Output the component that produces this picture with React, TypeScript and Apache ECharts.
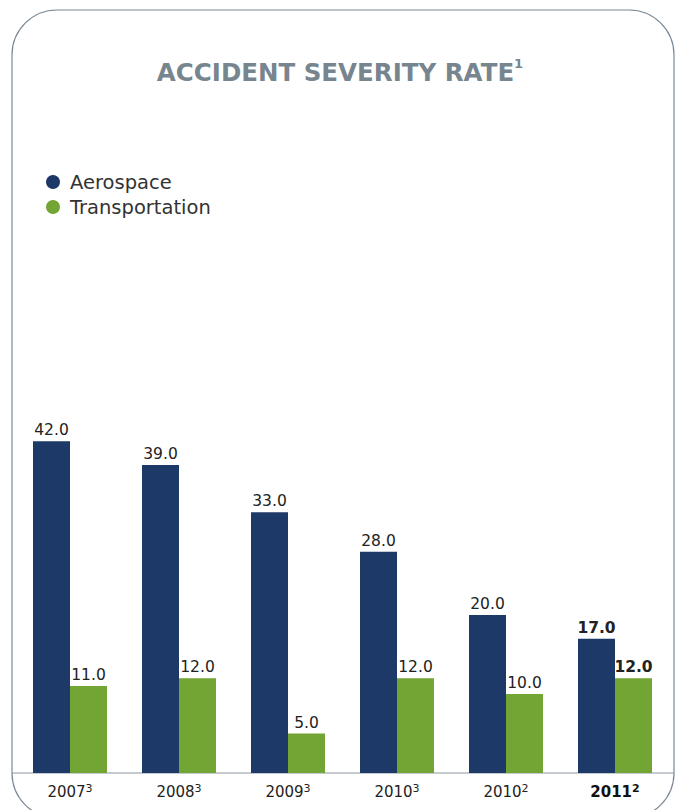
import React, { useEffect, useRef } from "react";
import * as echarts from "echarts";

const years = ["2007", "2008", "2009", "2010", "2010", "2011"];
const footnotes = ["3", "3", "3", "3", "2", "2"];
const aerospace = [42.0, 39.0, 33.0, 28.0, 20.0, 17.0];
const transportation = [11.0, 12.0, 5.0, 12.0, 10.0, 12.0];
const seriesNames = ["Aerospace", "Transportation"];
const titleText = "ACCIDENT SEVERITY RATE";
const titleNote = "1";

const NAVY = "#1c3968";
const GREEN = "#72a534";
const FONT = "DejaVu Sans";

export default function App() {
  const ref = useRef<HTMLDivElement>(null);
  useEffect(() => {
    document.body.style.margin = "0";
    const chart = echarts.init(ref.current!, null, { renderer: "svg" });
    const last = years.length - 1;
    const mk = (vals: number[]) =>
      vals.map((v, i) =>
        i === last
          ? { value: v, label: { fontWeight: "bold" } }
          : { value: v }
      );
    const labelCfg = {
      show: true,
      position: "top",
      distance: 3,
      fontSize: 15.5,
      color: "#222",
      fontFamily: FONT,
      formatter: (p: any) => Number(p.value).toFixed(1),
    };
    chart.setOption({
      animation: false,
      title: {
        text: `{t|${titleText}}{s|${titleNote}}`,
        left: "center",
        top: 57,
        padding: 0,
        textStyle: {
          rich: {
            t: { fontSize: 24.5, fontWeight: "bold", color: "#77858f", fontFamily: FONT, lineHeight: 30 },
            s: { fontSize: 13, fontWeight: "bold", color: "#77858f", fontFamily: FONT, verticalAlign: "top", lineHeight: 30 },
          },
        },
      },
      legend: {
        orient: "vertical",
        left: 46,
        top: 172,
        padding: 0,
        icon: "circle",
        itemWidth: 24,
        itemHeight: 14,
        itemGap: 5,
        textStyle: { fontSize: 19.5, color: "#333", fontFamily: FONT, lineHeight: 20 },
        data: seriesNames,
      },
      grid: { left: 15.5, right: 10.5, top: 378, bottom: 37 },
      xAxis: {
        type: "category",
        data: years,
        axisLine: { show: false },
        axisTick: { show: false },
        axisLabel: {
          margin: 10,
          formatter: (v: string, i: number) =>
            i === last ? `{yb|${v}}{sb|${footnotes[i]}}` : `{y|${v}}{s|${footnotes[i]}}`,
          rich: {
            y: { fontSize: 15, color: "#222", fontFamily: FONT, lineHeight: 18 },
            s: { fontSize: 11, color: "#222", fontFamily: FONT, verticalAlign: "top", lineHeight: 18 },
            yb: { fontSize: 15, color: "#111", fontFamily: FONT, fontWeight: "bold", lineHeight: 18 },
            sb: { fontSize: 11, color: "#111", fontFamily: FONT, fontWeight: "bold", verticalAlign: "top", lineHeight: 18 },
          },
        },
      },
      yAxis: { type: "value", min: 0, max: 50, show: false, splitLine: { show: false } },
      series: [
        {
          name: seriesNames[0],
          type: "bar",
          data: mk(aerospace),
          barWidth: 37,
          barGap: "0%",
          itemStyle: { color: NAVY },
          label: labelCfg,
        },
        {
          name: seriesNames[1],
          type: "bar",
          data: mk(transportation),
          barWidth: 37,
          barGap: "0%",
          itemStyle: { color: GREEN },
          label: labelCfg,
        },
      ],
      graphic: [
        {
          type: "rect",
          shape: { x: 12, y: 10, width: 662, height: 808, r: 45 },
          style: { fill: "none", stroke: "#7a8896", lineWidth: 1.2 },
          silent: true,
        },
        {
          type: "line",
          shape: { x1: 12, y1: 773, x2: 674, y2: 773 },
          style: { stroke: "#8a96a0", lineWidth: 1 },
          silent: true,
        },
      ],
    });
    return () => chart.dispose();
  }, []);
  return <div ref={ref} style={{ width: 680, height: 810 }} />;
}
